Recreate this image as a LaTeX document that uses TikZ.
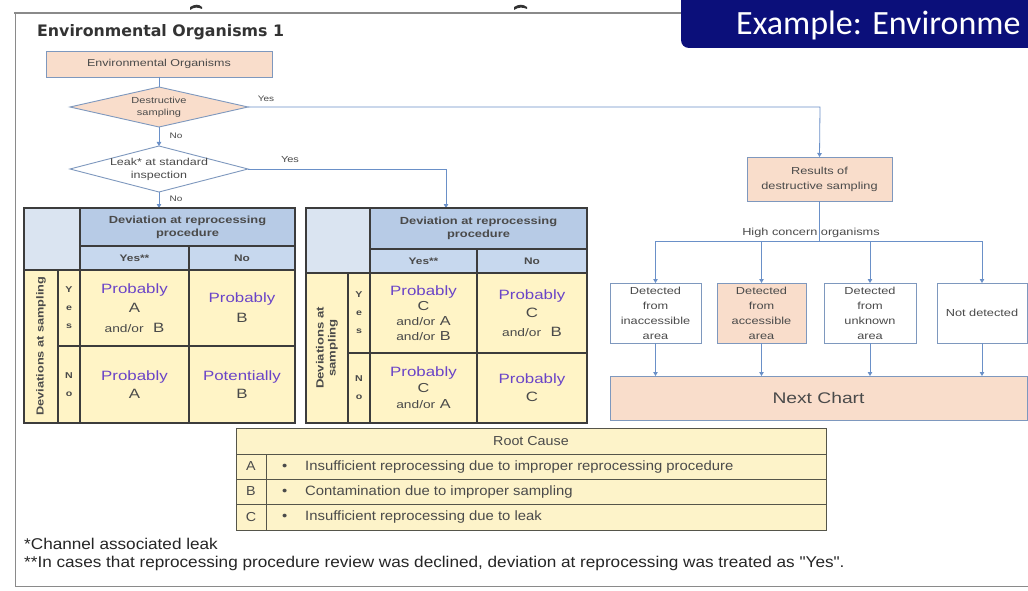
\documentclass[tikz,border=0pt]{standalone}
\usepackage{fontspec}
\setmainfont[FakeStretch=1.25]{Liberation Sans}
\newfontfamily\titlefont{DejaVu Sans}
\newfontfamily\bannerfont{Carlito}
\newfontfamily\notefont[FakeStretch=1.1]{Liberation Sans}
\usetikzlibrary{shapes.geometric,arrows.meta}

\definecolor{peach}{HTML}{F9DDCB}
\definecolor{linkblue}{HTML}{6A90C8}
\definecolor{boxblue}{HTML}{7E98BE}
\definecolor{txtgray}{HTML}{4A4A4A}
\definecolor{gridgray}{HTML}{3C3C3C}
\definecolor{headblue}{HTML}{B7CBE6}
\definecolor{headblue2}{HTML}{C7D8EE}
\definecolor{cornerblue}{HTML}{DAE4F1}
\definecolor{cellyellow}{HTML}{FFF4C6}
\definecolor{rootyellow}{HTML}{FDF3C9}
\definecolor{rootgrid}{HTML}{55554A}
\definecolor{probviolet}{HTML}{6A44C8}
\definecolor{navy}{HTML}{0B0F7A}
\definecolor{framegray}{HTML}{8A8A8A}

% a rectangular cell given by its corners (x1,y1) and (x2,y2)
\newcommand\cellat[7]{%
  \node[#6, minimum width={(#4-#2)*1pt}, minimum height={(#5-#3)*1pt}]
    (#1) at ({(#2+#4)/2},{(#3+#5)/2}) {#7};}
\newcommand\pp[1]{{\color{probviolet}#1}}
\newcommand\fsz[2]{\fontsize{#1}{#2}\selectfont}
\newcommand\ao[1]{{\fsz{11}{#1}and/or}}

\begin{document}
\begin{tikzpicture}[x=1pt,y=-1pt,
  conn/.style={draw=linkblue, line width=0.8pt},
  arr/.style={conn, -{Triangle[length=4pt,width=4.5pt]}},
  flowbox/.style={draw=boxblue, line width=0.9pt, fill=peach, inner sep=0pt, outer sep=0pt,
    text=txtgray, align=center, font=\fsz{10.2}{15}},
  plainbox/.style={flowbox, fill=white},
  decision/.style={diamond, draw=boxblue, line width=0.9pt, inner sep=0pt, outer sep=0pt},
  dtext/.style={text=txtgray, align=center, inner sep=0pt},
  lbl/.style={text=txtgray, font=\fsz{8}{10}, inner sep=0pt},
  tcell/.style={draw=gridgray, line width=1.1pt, inner sep=0pt, outer sep=0pt,
    text=txtgray, align=center},
  hcell/.style={tcell, fill=headblue, font=\bfseries\fsz{10.3}{13}},
  hcellb/.style={tcell, fill=headblue2, font=\bfseries\fsz{9.5}{13}},
  ccell/.style={tcell, fill=cornerblue},
  ycell/.style={tcell, fill=cellyellow},
  lcell/.style={tcell, fill=cellyellow, font=\bfseries\fsz{8.5}{18}},
  rcell/.style={draw=rootgrid, line width=1pt, fill=rootyellow, inner sep=0pt, outer sep=0pt,
    text=txtgray, font=\notefont\fsz{13}{14}},
  rtxt/.style={text=txtgray, font=\notefont\fsz{13.5}{14}, inner sep=0pt, anchor=west},
  note/.style={anchor=west, inner sep=0pt, text=black!85, font=\notefont\fsz{15.6}{17}}]

\useasboundingbox (0,0) rectangle (1028,591);
\clip (0,0) rectangle (1028,591);
\fill[white] (0,0) rectangle (1028,591);

% page frame
\draw[framegray, line width=1.4pt] (14,13) -- (690,13);
\draw[framegray, line width=1pt] (15,13) -- (15,586) -- (1028,586);
\fill[black!80] (190,7) .. controls (195,4) and (199,4) .. (202,7) -- (202,9) .. controls (198,7) and (194,7) .. (190,10) -- cycle;
\fill[black!80] (514,7) .. controls (519,4) and (523,4) .. (527,7) -- (527,9) .. controls (523,7) and (518,7) .. (514,10) -- cycle;

% banner
\fill[navy, rounded corners=8pt] (681,-10) rectangle (1040,48);
\node[anchor=base west, inner sep=0pt, text=white, font=\bannerfont\fontsize{34}{38}\selectfont]
  (banner) at (736,35) {Example: Environme};

% title
\node[anchor=west, inner sep=0pt, text=black!80, font=\titlefont\bfseries\fsz{15.8}{17}]
  (title) at (37,32) {Environmental Organisms 1};

% flow on the left
\cellat{eo}{46}{51}{272}{77}{flowbox, font=\fsz{10}{12}}{Environmental Organisms}
\node[decision, fill=peach, minimum width=178pt, minimum height=40pt] (d1) at (159,107) {};
\node[dtext, font=\fsz{8.8}{12}] (d1t) at (d1.center) {Destructive\\sampling};
\node[decision, fill=white, minimum width=178pt, minimum height=46pt] (d2) at (159,169) {};
\node[dtext, font=\fsz{10}{13}] (d2t) at (d2.center) {Leak* at standard\\inspection};

\node[lbl] (yes1) at (266,99) {Yes};
\node[lbl] (no1) at (176,136) {No};
\node[lbl, font=\fsz{8.8}{10}] (yes2) at (290,160) {Yes};
\node[lbl] (no2) at (176,199) {No};

\coordinate (t1top) at (159,208);
\coordinate (t2top) at (446,208);
\coordinate (yesturn) at (820,107);
\coordinate (leakturn) at (446,169);

% right branch boxes
\cellat{res}{747}{157}{892}{201}{flowbox}{Results of\\destructive sampling}
\cellat{b1}{610}{283}{701}{343}{plainbox}{Detected\\from\\inaccessible\\area}
\cellat{b2}{717}{283}{806}{343}{flowbox}{Detected\\from\\accessible\\area}
\cellat{b3}{824}{283}{916}{343}{plainbox}{Detected\\from\\unknown\\area}
\cellat{b4}{937}{283}{1027}{343}{plainbox}{Not detected}
\cellat{nc}{610}{376}{1027}{420}{flowbox, font=\fsz{15.4}{18}}{Next Chart}
\coordinate (busL) at (655.5,241);
\coordinate (busR) at (982,241);
\node[lbl, font=\fsz{10.2}{11}] (hco) at (811,233) {High concern organisms};

% connectors
\draw[conn] (eo.south) -- (d1.north);
\draw[arr] (d1.south) -- (d2.north);
\draw[arr] (d2.south) -- (t1top);
\draw[arr] (d1.east) -- (yesturn) -- (res.north);
\draw[arr] (d2.east) -- (leakturn) -- (t2top);
\draw[conn] (res.south) -- (res.south |- busL);
\draw[conn] (busL) -- (busR);
\draw[arr] (busL) -- (b1.north);
\draw[arr] (b2.north |- busL) -- (b2.north);
\draw[arr] (b3.north |- busL) -- (b3.north);
\draw[arr] (busR) -- (b4.north);
\draw[arr] (b1.south) -- (b1.south |- nc.north);
\draw[arr] (b2.south) -- (b2.south |- nc.north);
\draw[arr] (b3.south) -- (b3.south |- nc.north);
\draw[arr] (b4.south) -- (b4.south |- nc.north);

% first table: no leak
\cellat{ta0}{24}{208}{80}{270}{ccell}{}
\cellat{tah}{80}{208}{295}{246}{hcell}{Deviation at reprocessing\\procedure}
\cellat{tay}{80}{246}{189}{270}{hcellb}{Yes**}
\cellat{tan}{189}{246}{295}{270}{hcellb}{No}
\cellat{tas}{24}{270}{58}{423}{ycell}{}
\node[rotate=90, text=txtgray, font=\bfseries\fsz{10.2}{12}, inner sep=0pt] (tast) at (41,346) {Deviations at sampling};
\cellat{tarY}{58}{270}{80}{346}{lcell}{Y\\e\\s}
\cellat{tarN}{58}{346}{80}{423}{lcell}{N\\o}
\cellat{ta11}{80}{270}{189}{346}{ycell, font=\fsz{13.5}{19.5}}{\pp{Probably}\\A\\\ao{19.5}\ \ B}
\cellat{ta12}{189}{270}{295}{346}{ycell, font=\fsz{13.5}{20}}{\pp{Probably}\\B}
\cellat{ta21}{80}{346}{189}{423}{ycell, font=\fsz{13.5}{18}}{\pp{Probably}\\A}
\cellat{ta22}{189}{346}{295}{423}{ycell, font=\fsz{13.5}{18}}{\pp{Potentially}\\B}

% second table: leak found
\cellat{tb0}{306}{208}{370}{273}{ccell}{}
\cellat{tbh}{370}{208}{587}{249}{hcell}{Deviation at reprocessing\\procedure}
\cellat{tby}{370}{249}{477}{273}{hcellb}{Yes**}
\cellat{tbn}{477}{249}{587}{273}{hcellb}{No}
\cellat{tbs}{306}{273}{348}{423}{ycell}{}
\node[rotate=90, text=txtgray, font=\bfseries\fsz{10.5}{12}, inner sep=0pt, align=center] (tbst) at (327,348) {Deviations at\\sampling};
\cellat{tbrY}{348}{273}{370}{353}{lcell}{Y\\e\\s}
\cellat{tbrN}{348}{353}{370}{423}{lcell}{N\\o}
\cellat{tb11}{370}{273}{477}{353}{ycell, font=\fsz{13}{15}}{\pp{\fsz{13.5}{15}Probably}\\C\\\ao{15} A\\\ao{15} B}
\cellat{tb12}{477}{273}{587}{353}{ycell, font=\fsz{13.5}{18.5}}{\pp{Probably}\\C\\\ao{18.5} \ B}
\cellat{tb21}{370}{353}{477}{423}{ycell, font=\fsz{13}{16}}{\pp{\fsz{13.5}{16}Probably}\\C\\\ao{16} A}
\cellat{tb22}{477}{353}{587}{423}{ycell, font=\fsz{13.5}{18}}{\pp{Probably}\\C}

% root cause legend
\cellat{rc}{236}{428}{826}{454}{rcell}{Root Cause}
\cellat{rcA}{236}{454}{266}{479}{rcell}{A}
\cellat{rcAt}{266}{454}{826}{479}{rcell}{}
\cellat{rcB}{236}{479}{266}{504}{rcell}{B}
\cellat{rcBt}{266}{479}{826}{504}{rcell}{}
\cellat{rcC}{236}{504}{266}{530}{rcell}{C}
\cellat{rcCt}{266}{504}{826}{530}{rcell}{}
\node[rtxt] (bulA) at (282,467) {•};
\node[rtxt] (txtA) at (305,467) {Insufficient reprocessing due to improper reprocessing procedure};
\node[rtxt] (bulB) at (282,492) {•};
\node[rtxt] (txtB) at (305,492) {Contamination due to improper sampling};
\node[rtxt] (bulC) at (282,517) {•};
\node[rtxt] (txtC) at (305,517) {Insufficient reprocessing due to leak};

% footnotes
\node[note] (fn1) at (24,544) {*Channel associated leak};
\node[note] (fn2) at (24,563)
  {**In cases that reprocessing procedure review was declined, deviation at reprocessing was treated as "Yes".};
\end{tikzpicture}
\end{document}
